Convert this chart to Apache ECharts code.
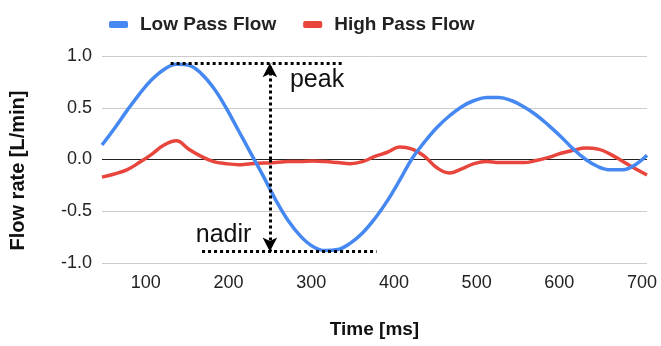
<!DOCTYPE html>
<html>
<head>
<meta charset="utf-8">
<script src="https://cdn.jsdelivr.net/npm/echarts@6/dist/echarts.min.js"></script>
<style>
  html, body { margin: 0; padding: 0; background: #fff; }
  #chart { width: 661px; height: 346px; }
</style>
</head>
<body>
<div id="chart"></div>
<script>
// time axis (ms), shared by both series
var timeMs = [47, 62, 77, 92, 107, 122, 137, 152, 167, 182, 197, 212, 227, 242, 257, 272, 287, 302, 317, 332, 347, 362, 377, 392, 407, 422, 437, 452, 467, 482, 497, 512, 527, 542, 557, 572, 587, 602, 617, 632, 647, 662, 677, 692, 706];

// low pass flow (L/min)
var lowFlow = [0.14, 0.30, 0.47, 0.63, 0.77, 0.87, 0.92, 0.91, 0.83, 0.69, 0.50, 0.28, 0.06, -0.16, -0.39, -0.59, -0.74, -0.84, -0.88, -0.87, -0.81, -0.71, -0.57, -0.40, -0.20, 0.01, 0.17, 0.31, 0.42, 0.51, 0.57, 0.60, 0.60, 0.57, 0.51, 0.43, 0.33, 0.22, 0.10, 0.00, -0.07, -0.10, -0.10, -0.05, 0.04];

// high pass flow (L/min)
var highFlow = [-0.17, -0.14, -0.10, -0.03, 0.05, 0.14, 0.18, 0.10, 0.03, -0.02, -0.04, -0.05, -0.04, -0.035, -0.03, -0.02, -0.02, -0.015, -0.02, -0.03, -0.04, -0.02, 0.03, 0.07, 0.12, 0.10, 0.03, -0.08, -0.13, -0.09, -0.04, -0.02, -0.03, -0.03, -0.03, -0.01, 0.02, 0.06, 0.09, 0.11, 0.10, 0.05, -0.02, -0.09, -0.15];

var xTicks = [100, 200, 300, 400, 500, 600, 700];

// annotations
var peakLevel = 0.93;
var nadirLevel = -0.89;
var peakSpan = [130, 340];
var nadirSpan = [168, 379];
var arrowTime = 250;
var peakText = [307, 0.77];
var nadirText = [194, -0.73];

function pairs(xs, ys) {
  var out = [];
  for (var i = 0; i < xs.length; i++) out.push([xs[i], ys[i]]);
  return out;
}

var chart = echarts.init(document.getElementById('chart'));

var dots = { color: '#000', type: [3, 3], width: 3 };

var option = {
  animation: false,
  textStyle: { fontFamily: 'Liberation Sans, Arial, sans-serif' },
  legend: {
    left: 104,
    top: 10,
    icon: 'roundRect',
    itemWidth: 19,
    itemHeight: 7,
    itemGap: 27,
    textStyle: { fontSize: 19, fontWeight: 'bold', color: '#222', padding: [0, 0, 0, 7] },
    data: ['Low Pass Flow', 'High Pass Flow']
  },
  grid: { left: 99, right: 14, top: 56, bottom: 83 },
  xAxis: {
    type: 'value',
    min: 47,
    max: 706,
    name: 'Time [ms]',
    nameLocation: 'middle',
    nameGap: 57,
    nameTextStyle: { fontSize: 19, fontWeight: 'bold', color: '#111' },
    axisLine: { show: false },
    axisTick: { show: false },
    splitLine: { show: false },
    axisLabel: { customValues: xTicks, fontSize: 18, color: '#222', margin: 11 }
  },
  yAxis: {
    type: 'value',
    min: -1,
    max: 1,
    interval: 0.5,
    name: 'Flow rate [L/min]',
    nameLocation: 'middle',
    nameGap: 74,
    nameTextStyle: { fontSize: 20, fontWeight: 'bold', color: '#111', padding: [0, 22, 0, 0] },
    axisLine: { show: false },
    axisTick: { show: false },
    axisLabel: {
      fontSize: 18, color: '#222', margin: 10,
      formatter: function (v) { return v.toFixed(1); }
    },
    splitLine: { lineStyle: { color: ['#ccc', '#ccc', '#222', '#ccc', '#ccc'], width: 1 } }
  },
  series: [
    {
      name: 'Low Pass Flow',
      type: 'line',
      smooth: 0.4,
      showSymbol: false,
      color: '#4688F1',
      lineStyle: { width: 3.5 },
      data: pairs(timeMs, lowFlow),
      z: 3,
      markLine: {
        silent: true,
        symbol: 'none',
        label: { show: false },
        lineStyle: dots,
        data: [
          [{ coord: [peakSpan[0], peakLevel] }, { coord: [peakSpan[1], peakLevel] }],
          [{ coord: [nadirSpan[0], nadirLevel] }, { coord: [nadirSpan[1], nadirLevel] }],
          [
            { coord: [arrowTime, 0], symbol: 'none' },
            { coord: [arrowTime, peakLevel], symbol: 'arrow', symbolSize: [11, 14] }
          ],
          [
            { coord: [arrowTime, 0], symbol: 'none' },
            { coord: [arrowTime, nadirLevel], symbol: 'arrow', symbolSize: [11, 14] }
          ]
        ]
      },
      markPoint: {
        silent: true,
        symbolSize: 0,
        label: { show: true, fontSize: 25, color: '#111', position: 'inside' },
        data: [
          { coord: peakText, value: 'peak', label: { formatter: 'peak' } },
          { coord: nadirText, value: 'nadir', label: { formatter: 'nadir' } }
        ]
      }
    },
    {
      name: 'High Pass Flow',
      type: 'line',
      smooth: 0.4,
      showSymbol: false,
      color: '#E8453C',
      lineStyle: { width: 3.5 },
      data: pairs(timeMs, highFlow),
      z: 2
    }
  ]
};

chart.setOption(option);
</script>
</body>
</html>
